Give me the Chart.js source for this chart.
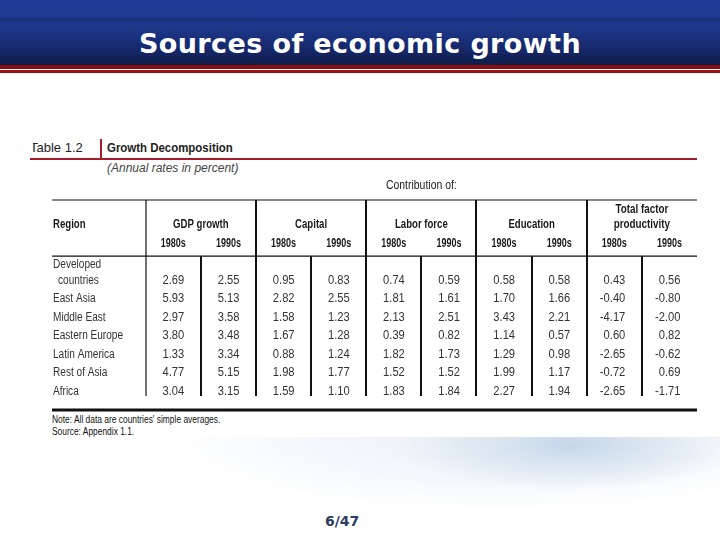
<!DOCTYPE html>
<html lang="en">
<head>
<meta charset="UTF-8">
<title>Sources of economic growth</title>
<script src="https://cdn.jsdelivr.net/npm/chart.js"></script>
<style>
  html, body { margin: 0; padding: 0; }
  body { width: 720px; height: 540px; position: relative; overflow: hidden; background: #fff; font-family: 'Liberation Sans', Arial, sans-serif; }
  .band { position: absolute; left: 0; width: 720px; }
  #topband { top: 0; height: 18px; background: linear-gradient(#1f3b96, #1d3891); }
  #midband { top: 18px; height: 47px; background: linear-gradient(#17307a 0px, #1e3a8c 6px, #1b3483 14px, #16296c 30px, #0f1c4a 47px); }
  #red1 { top: 65px; height: 4px; background: #8c0d0d; }
  #red2 { top: 70px; height: 3px; background: #a10f10; }
  #title { position: absolute; left: 0; width: 720px; top: 30px; text-align: center; color: #fff; font: bold 27px 'DejaVu Sans', Verdana, sans-serif; line-height: 27px; letter-spacing: 0.4px; }
  #map { position: absolute; left: 0; top: 437px; width: 720px; height: 103px;
         background: radial-gradient(ellipse 170px 45px at 570px 8px, #c6d6e8 0%, #dbe6f1 45%, rgba(255,255,255,0) 100%),
                     radial-gradient(ellipse 330px 75px at 500px 0px, #eaf0f7 0%, #f4f7fb 55%, #ffffff 100%); }
  .cap { position: absolute; white-space: nowrap; color: #222; }
  #tabno { left: 33px; top: 140px; width: 60px; overflow: hidden; font-size: 13px; }
  #tabno span { margin-left: -3px; }
  #redbar { position: absolute; left: 100px; top: 139px; width: 2px; height: 20px; background: #a51a2c; }
  #redline { position: absolute; left: 30px; top: 158px; width: 667px; height: 2px; background: #a51a2c; }
  #gd { left: 107px; top: 140px; font: bold 13px 'Liberation Sans', sans-serif; transform: scaleX(0.88); transform-origin: left; }
  #ann { left: 107px; top: 161px; font: italic 12px 'Liberation Sans', sans-serif; color: #444; }
  .note { left: 52px; font-size: 10.5px; transform: scaleX(0.8); transform-origin: left; color: #111; }
  #page { position: absolute; left: 325px; top: 513px; font: bold 14px 'DejaVu Sans', Verdana, sans-serif; color: #2b3c64; }
  #chartBox { position: absolute; left: 0; top: 170px; width: 720px; height: 250px; }
</style>
</head>
<body>
<div class="band" id="topband"></div>
<div class="band" id="midband"></div>
<div class="band" id="red1"></div>
<div class="band" id="red2"></div>
<div id="title">Sources of economic growth</div>
<div id="map"></div>

<div class="cap" id="tabno"><span>Table 1.2</span></div>
<div id="redbar"></div>
<div id="redline"></div>
<div class="cap" id="gd">Growth Decomposition</div>
<div class="cap" id="ann">(Annual rates in percent)</div>
<div class="cap note" style="top:413px">Note: All data are countries' simple averages.</div>
<div class="cap note" style="top:425px">Source: Appendix 1.1.</div>
<div id="page">6/47</div>

<div id="chartBox"><canvas id="tableChart" width="720" height="250"></canvas></div>

<script>
// table data
const regions = ['Developed countries', 'East Asia', 'Middle East', 'Eastern Europe', 'Latin America', 'Rest of Asia', 'Africa'];
const groups = ['GDP growth', 'Capital', 'Labor force', 'Education', 'Total factor productivity'];
const decades = ['1980s', '1990s'];

const gdp80 = [2.69, 5.93, 2.97, 3.80, 1.33, 4.77, 3.04];
const gdp90 = [2.55, 5.13, 3.58, 3.48, 3.34, 5.15, 3.15];
const cap80 = [0.95, 2.82, 1.58, 1.67, 0.88, 1.98, 1.59];
const cap90 = [0.83, 2.55, 1.23, 1.28, 1.24, 1.77, 1.10];
const lab80 = [0.74, 1.81, 2.13, 0.39, 1.82, 1.52, 1.83];
const lab90 = [0.59, 1.61, 2.51, 0.82, 1.73, 1.52, 1.84];
const edu80 = [0.58, 1.70, 3.43, 1.14, 1.29, 1.99, 2.27];
const edu90 = [0.58, 1.66, 2.21, 0.57, 0.98, 1.17, 1.94];
const tfp80 = [0.43, -0.40, -4.17, 0.60, -2.65, -0.72, -2.65];
const tfp90 = [0.56, -0.80, -2.00, 0.82, -0.62, 0.69, -1.71];

const series = [gdp80, gdp90, cap80, cap90, lab80, lab90, edu80, edu90, tfp80, tfp90];

// layout of the grid in scale units
const regionW = 1.7;          // width of the Region column
const xMax = regionW + series.length;
const firstRow = 3;           // row index of the first region's numbers
const yTop = -1.35, yHead = 1.68, yVert = 9.24, yBottom = 10;

const datasets = series.map((vals, j) => ({
    label: groups[Math.floor(j / 2)] + ' ' + decades[j % 2],
    data: vals.map((v, i) => ({ x: regionW + j + 0.5, y: firstRow + i, v: v })),
    pointRadius: 0
}));

function squeezed(ctx, s, px, py, align, sx) {
    ctx.save();
    ctx.translate(px, py);
    ctx.scale(sx, 1);
    ctx.textAlign = align;
    ctx.fillText(s, 0, 0);
    ctx.restore();
}

const tablePlugin = {
    id: 'tableGrid',
    afterDatasetsDraw(chart) {
        const { ctx, scales: { x, y } } = chart;
        const X = v => x.getPixelForValue(v);
        const Y = v => y.getPixelForValue(v);
        const hline = (yv, w) => {
            ctx.lineWidth = w;
            ctx.beginPath(); ctx.moveTo(X(0), Y(yv)); ctx.lineTo(X(xMax), Y(yv)); ctx.stroke();
        };
        const vline = (xv, y0, y1, w) => {
            ctx.lineWidth = w;
            ctx.beginPath(); ctx.moveTo(Math.round(X(xv)), Y(y0)); ctx.lineTo(Math.round(X(xv)), Y(y1)); ctx.stroke();
        };
        ctx.save();
        ctx.strokeStyle = '#111';
        hline(yTop, 1.2);
        hline(yHead, 1.2);
        hline(yBottom, 3);
        for (let g = 0; g < groups.length; g++) {
            vline(regionW + g * 2, yTop, yVert, g === 0 ? 1.2 : 2);
            vline(regionW + g * 2 + 1, yHead, yVert, 2);
        }

        ctx.textBaseline = 'middle';
        ctx.fillStyle = '#1a1a1a';
        ctx.font = '12px "Liberation Sans", Arial, sans-serif';
        squeezed(ctx, 'Contribution of:', X(6.7), Y(-2.1), 'center', 0.87);

        ctx.font = 'bold 12px "Liberation Sans", Arial, sans-serif';
        squeezed(ctx, 'Region', X(0) + 1, Y(0), 'left', 0.8);
        groups.forEach((g, i) => {
            const cx = X(regionW + i * 2 + 1);
            if (g.length > 15) {
                const k = g.lastIndexOf(' ');
                squeezed(ctx, g.slice(0, k), cx, Y(-0.8), 'center', 0.82);
                squeezed(ctx, g.slice(k + 1), cx, Y(0), 'center', 0.82);
            } else {
                squeezed(ctx, g, cx, Y(0), 'center', 0.8);
            }
        });
        for (let j = 0; j < series.length; j++) {
            squeezed(ctx, decades[j % 2], X(regionW + j + 0.5), Y(1), 'center', 0.75);
        }

        ctx.font = '12px "Liberation Sans", Arial, sans-serif';
        ctx.fillStyle = '#333';
        regions.forEach((r, i) => {
            if (r.indexOf(' ') > 0 && i === 0) {
                const k = r.indexOf(' ');
                squeezed(ctx, r.slice(0, k), X(0) + 1, Y(firstRow - 1 + 0.15), 'left', 0.84);
                squeezed(ctx, r.slice(k + 1), X(0) + 6, Y(firstRow), 'left', 0.84);
            } else {
                squeezed(ctx, r, X(0) + 1, Y(firstRow + i), 'left', 0.84);
            }
        });

        // cell values at the points placed by the scales
        chart.data.datasets.forEach((ds, di) => {
            chart.getDatasetMeta(di).data.forEach((pt, i) => {
                squeezed(ctx, ds.data[i].v.toFixed(2), pt.x + 11, pt.y, 'right', 0.93);
            });
        });
        ctx.restore();
    }
};

new Chart(document.getElementById('tableChart'), {
    type: 'scatter',
    data: { datasets: datasets },
    options: {
        responsive: false,
        animation: false,
        devicePixelRatio: 1,
        layout: { padding: { left: 52, right: 23, top: 30, bottom: 10 } },
        plugins: { legend: { display: false }, tooltip: { enabled: false } },
        scales: {
            x: { type: 'linear', min: 0, max: xMax, display: false },
            y: { type: 'linear', min: yTop, max: yBottom, reverse: true, display: false }
        }
    },
    plugins: [tablePlugin]
});
</script>
</body>
</html>
